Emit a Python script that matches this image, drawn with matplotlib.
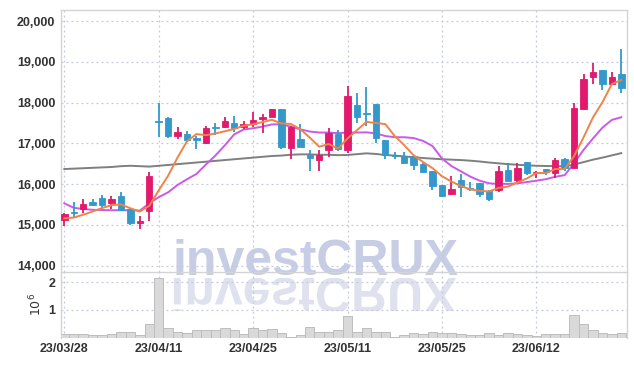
import matplotlib
matplotlib.use('Agg')
import matplotlib.pyplot as plt
import matplotlib.transforms as mtransforms
from matplotlib.textpath import TextPath
from matplotlib.patches import PathPatch, Rectangle
from matplotlib.font_manager import FontProperties


###DATA###
dates = ['23/03/28', '23/03/29', '23/03/30', '23/03/31', '23/04/03', '23/04/04', '23/04/05', '23/04/06',
         '23/04/07', '23/04/10', '23/04/11', '23/04/12', '23/04/13', '23/04/14', '23/04/17', '23/04/18',
         '23/04/19', '23/04/20', '23/04/21', '23/04/24', '23/04/25', '23/04/26', '23/04/27', '23/04/28',
         '23/05/02', '23/05/03', '23/05/04', '23/05/08', '23/05/09', '23/05/10', '23/05/11', '23/05/12',
         '23/05/15', '23/05/16', '23/05/17', '23/05/18', '23/05/19', '23/05/22', '23/05/23', '23/05/24',
         '23/05/25', '23/05/26', '23/05/30', '23/05/31', '23/06/01', '23/06/02', '23/06/05', '23/06/07',
         '23/06/08', '23/06/09', '23/06/12', '23/06/13', '23/06/14', '23/06/15', '23/06/16', '23/06/19',
         '23/06/20', '23/06/21', '23/06/22', '23/06/23']

opens = [15120, 15300, 15380, 15550, 15660, 15530, 15720, 15380, 15050, 15350,
         17540, 17610, 17170, 17230, 17120, 17000, 17400, 17390, 17500, 17390,
         17470, 17590, 17650, 17830, 16880, 17110, 16710, 16580, 16830, 17230,
         16840, 17930, 17750, 17960, 17070, 16720, 16690, 16690, 16490, 16310,
         15970, 15750, 16100, 15910, 16020, 15840, 15850, 16350, 16110, 16540,
         16280, 16370, 16270, 16620, 16400, 17830, 18630, 18800, 18450, 18690]
highs = [15300, 15560, 15630, 15630, 15730, 15700, 15800, 15390, 15220, 16300,
         18000, 17650, 17400, 17300, 17170, 17420, 17490, 17650, 17670, 17540,
         17780, 17710, 17840, 17840, 17430, 17470, 16840, 16830, 17380, 17320,
         18410, 18230, 18380, 17970, 17080, 16800, 16790, 16700, 16530, 16320,
         15980, 16210, 16260, 16060, 16030, 15850, 16440, 16510, 16530, 16550,
         16310, 16380, 16630, 16630, 17980, 18690, 18980, 18810, 18750, 19310]
lows = [14980, 15170, 15280, 15460, 15420, 15380, 15330, 15000, 14890, 15100,
        17150, 17130, 17100, 17050, 16860, 16990, 17200, 17380, 17290, 17350,
        17410, 17260, 17640, 16870, 16610, 16900, 16310, 16320, 16660, 16820,
        16760, 17510, 17430, 17000, 16620, 16620, 16510, 16350, 16290, 15860,
        15690, 15740, 15690, 15820, 15680, 15590, 15800, 16070, 16020, 16220,
        16140, 16220, 16160, 16330, 16390, 17820, 18460, 18310, 18440, 18230]
closes = [15270, 15280, 15510, 15500, 15500, 15630, 15370, 15040, 15100, 16200,
          17520, 17170, 17280, 17090, 17080, 17380, 17380, 17550, 17370, 17470,
          17570, 17650, 17830, 16920, 17410, 16920, 16630, 16710, 17250, 16850,
          18160, 17640, 17730, 17120, 16710, 16700, 16530, 16470, 16300, 15960,
          15710, 15880, 15920, 15890, 15770, 15640, 16320, 16080, 16390, 16270,
          16300, 16300, 16590, 16390, 17860, 18590, 18750, 18450, 18620, 18360]

# volume in millions of shares
volume = [0.12, 0.12, 0.12, 0.08, 0.08, 0.13, 0.20, 0.20, 0.08, 0.48,
          2.14, 0.34, 0.19, 0.16, 0.27, 0.27, 0.27, 0.34, 0.27, 0.12,
          0.34, 0.27, 0.30, 0.16, 0.04, 0.08, 0.40, 0.19, 0.19, 0.27,
          0.78, 0.19, 0.34, 0.19, 0.19, 0.04, 0.08, 0.16, 0.13, 0.19,
          0.16, 0.16, 0.12, 0.08, 0.08, 0.16, 0.08, 0.16, 0.12, 0.08,
          0.06, 0.12, 0.12, 0.12, 0.82, 0.48, 0.27, 0.16, 0.12, 0.16]

# moving averages
ma_short = [15160, 15180, 15250, 15330, 15412, 15484, 15502, 15408, 15328, 15468,
            15846, 16206, 16654, 17052, 17228, 17200, 17242, 17296, 17352, 17430,
            17468, 17522, 17578, 17488, 17476, 17346, 17142, 16918, 16984, 16872,
            17120, 17322, 17526, 17500, 17472, 17180, 16958, 16706, 16542, 16392,
            16194, 16064, 15954, 15872, 15834, 15820, 15908, 15940, 16040, 16140,
            16272, 16268, 16370, 16370, 16688, 17146, 17636, 18008, 18454, 18554]
ma_mid = [15530, 15420, 15390, 15370, 15365, 15360, 15360, 15360, 15350, 15530,
          15680, 15800, 15980, 16120, 16250, 16480, 16700, 16950, 17220, 17340,
          17370, 17410, 17465, 17465, 17410, 17345, 17290, 17265, 17265, 17250,
          17265, 17265, 17270, 17245, 17180, 17150, 17150, 17130, 17060, 16935,
          16630, 16445, 16315, 16185, 16085, 16020, 16005, 16005, 16020, 16050,
          16085, 16120, 16180, 16220, 16510, 16840, 17120, 17385, 17575, 17640]
ma_long = [16370, 16380, 16390, 16400, 16410, 16420, 16440, 16450, 16440, 16430,
           16450, 16470, 16490, 16510, 16530, 16550, 16570, 16590, 16610, 16630,
           16650, 16670, 16690, 16700, 16720, 16730, 16730, 16720, 16720, 16710,
           16715, 16735, 16755, 16740, 16715, 16700, 16680, 16660, 16640, 16625,
           16610, 16600, 16590, 16575, 16555, 16530, 16510, 16490, 16475, 16460,
           16450, 16445, 16440, 16440, 16480, 16540, 16600, 16650, 16705, 16760]

price_ticks = [14000, 15000, 16000, 17000, 18000, 19000, 20000]

###STYLE###
UP = '#e2196c'
DOWN = '#3498cb'
GRID = '#c4c8dc'
SPINE = '#d4d4d4'
TXT = '#333333'
plt.rcParams['font.family'] = ['Liberation Sans', 'DejaVu Sans']


def style_axis(ax):
    '''light frame, dotted grid, no tick marks'''
    ax.set_facecolor('none')
    for s in ax.spines.values():
        s.set_color(SPINE)
        s.set_linewidth(1.0)
    ax.tick_params(length=0, labelsize=9, labelcolor=TXT, pad=4)
    for lab in ax.get_yticklabels() + ax.get_xticklabels():
        lab.set_fontweight('bold')
    ax.grid(True, color=GRID, linestyle=(0, (1.5, 2.5)), linewidth=0.9)
    ax.set_axisbelow(True)


def candles(ax):
    '''draws wicks and bodies'''
    for i in range(len(opens)):
        col = UP if closes[i] >= opens[i] else DOWN
        ax.vlines(i, lows[i], highs[i], color=col, linewidth=1.3, zorder=3)
        bottom = min(opens[i], closes[i])
        height = max(abs(closes[i] - opens[i]), 25)
        ax.bar(i, height, bottom=bottom, width=0.68, color=col,
               edgecolor=col, linewidth=0.6, zorder=4)


def watermark(fig):
    '''investCRUX text plus its faded mirror image'''
    fp = FontProperties(family=['Liberation Sans Narrow', 'Liberation Sans'], weight='bold')
    size = 36
    cx, base = 315, 366 - 275   # display pixels
    fig.text(cx / 634, base / 366, 'investCRUX', fontproperties=fp, fontsize=size,
             color='#c6cde5', ha='center', va='baseline', zorder=-1)
    tp = TextPath((0, 0), 'investCRUX', size=size * 100 / 72, prop=fp)
    bb = tp.get_extents()
    tr = mtransforms.Affine2D().scale(1, -1).translate(cx - bb.x0 - bb.width / 2, base - 3)
    patch = PathPatch(tr.transform_path(tp), facecolor='#dfe2ee', edgecolor='none',
                      transform=mtransforms.IdentityTransform(), zorder=-1)
    fig.patches.append(patch)
    clip = Rectangle((0, base - 36), 634, 33, transform=mtransforms.IdentityTransform())
    patch.set_clip_path(clip)


###MAIN###
fig = plt.figure(figsize=(6.34, 3.66), dpi=100)
ax = fig.add_axes([0.0962, 0.2568, 0.8927, 0.7159])
axv = fig.add_axes([0.0962, 0.0773, 0.8927, 0.1795], sharex=ax)

candles(ax)
idx = range(len(closes))
ax.plot(idx, ma_long, color='#7f7f7f', linewidth=1.4, zorder=2)
ax.plot(idx, ma_mid, color='#c95ae9', linewidth=1.4, zorder=2)
ax.plot(idx, ma_short, color='#ef8348', linewidth=1.4, zorder=5)

ax.set_ylim(13845, 20270)
ax.set_xlim(-0.35, 59.6)
ax.set_yticks(price_ticks)
ax.set_yticklabels(['{:,}'.format(v) for v in price_ticks])
style_axis(ax)
ax.tick_params(axis='x', labelbottom=False)

axv.bar(idx, volume, width=1.0, color='#d9d9d9', edgecolor='#bdbdbd', linewidth=0.7, zorder=2)
axv.set_ylim(0, 2.36)
axv.set_yticks([1, 2])
axv.set_yticklabels(['1', '2'])
axv.set_xticks(list(idx)[::10])
axv.set_xticklabels(dates[::10])
style_axis(axv)
axv.spines['top'].set_visible(False)
axv.spines['bottom'].set_visible(False)
axv.set_ylabel('$10^6$', fontsize=9, color=TXT, labelpad=3)

watermark(fig)

plt.savefig('out.png', dpi=100)
plt.close()
